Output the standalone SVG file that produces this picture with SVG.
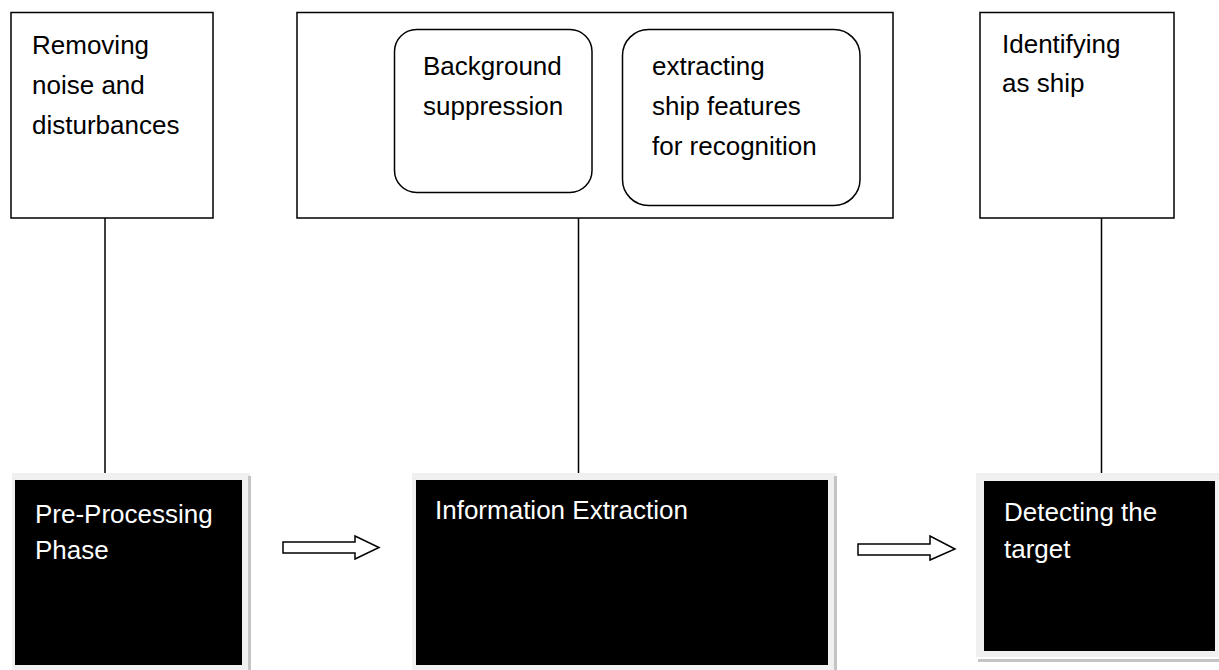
<svg xmlns="http://www.w3.org/2000/svg" width="1219" height="670" viewBox="0 0 1219 670">
  <style>
    .box { fill: #ffffff; stroke: #000000; stroke-width: 1.5; }
    .t { font-family: "Liberation Sans", Arial, sans-serif; font-size: 26px; fill: #000000; }
    .tw { font-family: "Liberation Sans", Arial, sans-serif; font-size: 26px; fill: #ffffff; }
    .frame { fill: #f0f0f0; }
    .edge { stroke: #c4c4c4; stroke-width: 3; fill: none; }
    .dark { fill: #000000; }
    .conn { stroke: #000000; stroke-width: 1.5; fill: none; }
    .arrow { fill: #ffffff; stroke: #000000; stroke-width: 1.5; stroke-linejoin: miter; }
  </style>
  <rect width="1219" height="670" fill="#ffffff"/>

  <g id="connectors">
    <line class="conn" x1="105" y1="218" x2="105" y2="474"/>
    <line class="conn" x1="578.5" y1="218" x2="578.5" y2="474"/>
    <line class="conn" x1="1101.5" y1="218" x2="1101.5" y2="474"/>
    <polygon class="arrow" points="283,542 355,542 355,536 379,547.5 355,559 355,553 283,553"/>
    <polygon class="arrow" points="858,544 930,544 930,536 955,549 930,560 930,555 858,555"/>
  </g>

  <g id="removing-noise">
    <rect class="box" x="11" y="12.5" width="202" height="205.5"/>
    <text class="t" x="32" y="54">Removing</text>
    <text class="t" x="32" y="94">noise and</text>
    <text class="t" x="32" y="134">disturbances</text>
  </g>

  <g id="extraction-group">
    <rect class="box" x="297" y="12.5" width="596" height="205.5"/>
  </g>

  <g id="background-suppression">
    <rect class="box" x="394.5" y="29.5" width="197.5" height="163" rx="22" ry="22"/>
    <text class="t" x="423" y="75">Background</text>
    <text class="t" x="423" y="115">suppression</text>
  </g>

  <g id="extracting-features">
    <rect class="box" x="622.5" y="29.5" width="237.5" height="176" rx="26" ry="26"/>
    <text class="t" x="652" y="75">extracting</text>
    <text class="t" x="652" y="115">ship features</text>
    <text class="t" x="652" y="155">for recognition</text>
  </g>

  <g id="identifying-ship">
    <rect class="box" x="980" y="12.5" width="194" height="205.5"/>
    <text class="t" x="1002" y="53">Identifying</text>
    <text class="t" x="1002" y="92">as ship</text>
  </g>

  <g id="pre-processing">
    <rect class="frame" x="12" y="473" width="238" height="197"/>
    <line class="edge" x1="249.5" y1="476" x2="249.5" y2="670"/>
    <rect class="dark" x="15" y="480" width="227" height="185"/>
    <text class="tw" x="35" y="523">Pre-Processing</text>
    <text class="tw" x="35" y="559">Phase</text>
  </g>

  <g id="information-extraction">
    <rect class="frame" x="412" y="473" width="424" height="197"/>
    <line class="edge" x1="835.5" y1="476" x2="835.5" y2="670"/>
    <rect class="dark" x="416" y="480" width="412" height="185"/>
    <text class="tw" x="435" y="519">Information Extraction</text>
  </g>

  <g id="detecting-target">
    <rect class="frame" x="976" y="473" width="243" height="184"/>
    <line class="edge" x1="978" y1="660.5" x2="1219" y2="660.5"/>
    <rect class="dark" x="984" y="481" width="231" height="170"/>
    <text class="tw" x="1004" y="521">Detecting the</text>
    <text class="tw" x="1004" y="558">target</text>
  </g>
</svg>
